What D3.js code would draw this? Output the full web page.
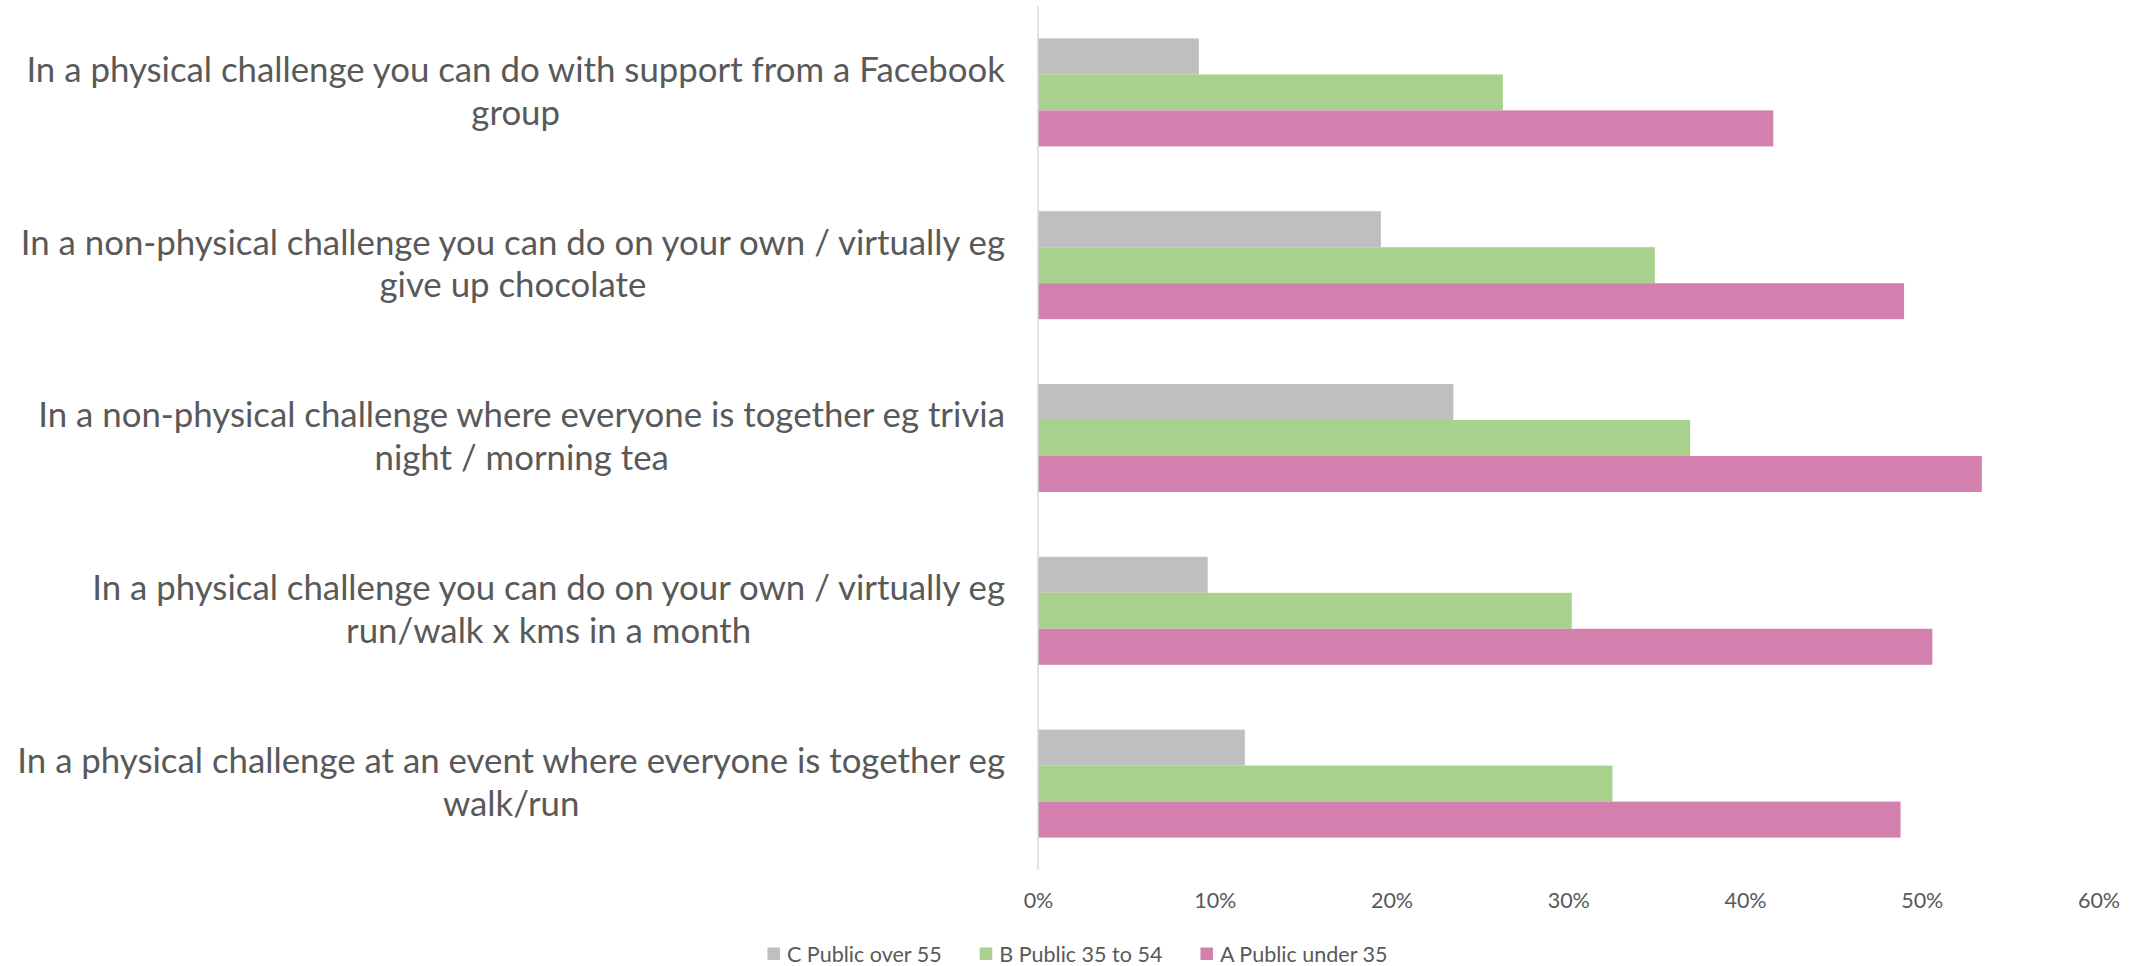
<!DOCTYPE html>
<html>
<head>
<meta charset="utf-8">
<script src="https://cdn.jsdelivr.net/npm/d3@7"></script>
<style>
  html, body { margin: 0; padding: 0; background: #ffffff; }
  svg { display: block; }
  text { font-family: Lato, "Open Sans", sans-serif; fill: #595959; }
</style>
</head>
<body>
<svg id="chart" width="2142" height="966"></svg>
<script>
// Survey categories, top to bottom (each entry holds its wrapped lines)
const categories = [
  ["In a physical challenge you can do with support from a Facebook", "group"],
  ["In a non-physical challenge you can do on your own / virtually eg", "give up chocolate"],
  ["In a non-physical challenge where everyone is together eg trivia", "night / morning tea"],
  ["In a physical challenge you can do on your own / virtually eg", "run/walk x kms in a month"],
  ["In a physical challenge at an event where everyone is together eg", "walk/run"]
];

// Series names, in legend order
const seriesNames = ["C Public over 55", "B Public 35 to 54", "A Public under 35"];

// Percent values per series, aligned with categories
const publicOver55 = [9.1, 19.4, 23.5, 9.6, 11.7];
const public35to54 = [26.3, 34.9, 36.9, 30.2, 32.5];
const publicUnder35 = [41.6, 49.0, 53.4, 50.6, 48.8];

// Axis tick values (percent)
const tickValues = [0, 10, 20, 30, 40, 50, 60];

const seriesValues = [publicOver55, public35to54, publicUnder35];
const seriesColors = ["#bfbfbf", "#a9d18e", "#d380ae"];

const svg = d3.select("#chart");

const plot = { left: 1038, right: 2098.5, top: 6, bottom: 870 };

const x = d3.scaleLinear().domain([0, 60]).range([plot.left, plot.right]);

const y = d3.scaleBand()
  .domain(d3.range(categories.length))
  .range([plot.top, plot.bottom])
  .paddingInner(0.375)
  .paddingOuter(0.1875);

const ySub = d3.scaleBand()
  .domain(d3.range(seriesNames.length))
  .range([0, y.bandwidth()]);

// Helper: width of a string at a given font size
const probe = svg.append("text").attr("x", -9999).attr("y", -9999);
function textWidth(str, size) {
  probe.attr("font-size", size).text(str);
  return probe.node().getComputedTextLength();
}

// Font sizes fitted to the label widths of the layout
const catSize = 37 * 988 / textWidth(categories[4][0], 37);
const legendTargets = [154, 161, 171];
const legendActual = seriesNames.map(s => textWidth(s, 23));
const smallSize = 23 * d3.sum(legendTargets) / d3.sum(legendActual);
probe.remove();

// Bars
const groups = svg.append("g").selectAll("g")
  .data(categories)
  .join("g")
  .attr("transform", (d, i) => `translate(0,${y(i)})`);

groups.selectAll("rect")
  .data((d, i) => seriesValues.map((vals, s) => ({ s, v: vals[i] })))
  .join("rect")
  .attr("x", x(0))
  .attr("y", d => ySub(d.s))
  .attr("width", d => x(d.v) - x(0))
  .attr("height", ySub.bandwidth())
  .attr("fill", d => seriesColors[d.s]);

// Vertical category axis line
svg.append("line")
  .attr("x1", x(0)).attr("x2", x(0))
  .attr("y1", plot.top).attr("y2", plot.bottom)
  .attr("stroke", "#d9d9e3")
  .attr("stroke-width", 1.5);

// Category labels: each block is right-aligned to the axis, lines centred within it
const labelRight = 1005;
const lineGap = catSize * 1.23;
const labelG = svg.append("g").attr("font-size", catSize);
categories.forEach((lines, i) => {
  const widths = lines.map(l => textWidth2(l));
  const blockW = d3.max(widths);
  const cx = labelRight - blockW / 2;
  const cy = y(i) + y.bandwidth() / 2;
  const firstBase = cy - 10.7 - (lines.length - 2) * lineGap / 2;
  lines.forEach((l, k) => {
    labelG.append("text")
      .attr("x", cx)
      .attr("y", firstBase + k * lineGap)
      .attr("text-anchor", "middle")
      .text(l);
  });
});
function textWidth2(str) {
  const t = svg.append("text").attr("font-size", catSize).text(str);
  const w = t.node().getComputedTextLength();
  t.remove();
  return w;
}

// Value axis tick labels
const xAxis = d3.axisBottom(x)
  .tickValues(tickValues)
  .tickFormat(d => d + "%")
  .tickSize(0)
  .tickPadding(0);

const axisG = svg.append("g")
  .attr("transform", `translate(0,${plot.bottom})`)
  .call(xAxis);
axisG.select(".domain").remove();
axisG.selectAll("text")
  .attr("dy", null)
  .attr("y", 38)
  .attr("font-size", smallSize)
  .attr("font-family", null)
  .attr("fill", "#595959");
axisG.attr("font-family", null).attr("font-size", null);

// Legend, centred under the chart
const sq = 12.5, sqGap = 7, entryGap = 38;
const legendWidths = seriesNames.map(s => {
  const t = svg.append("text").attr("font-size", smallSize).text(s);
  const w = t.node().getComputedTextLength();
  t.remove();
  return w;
});
const totalW = d3.sum(legendWidths) + seriesNames.length * (sq + sqGap) + (seriesNames.length - 1) * entryGap;
let lx = 1077.5 - totalW / 2;
const legendBase = 961.5;
const legend = svg.append("g");
seriesNames.forEach((name, i) => {
  legend.append("rect")
    .attr("x", lx).attr("y", legendBase - 14)
    .attr("width", sq).attr("height", sq)
    .attr("fill", seriesColors[i]);
  legend.append("text")
    .attr("x", lx + sq + sqGap)
    .attr("y", legendBase)
    .attr("font-size", smallSize)
    .text(name);
  lx += sq + sqGap + legendWidths[i] + entryGap;
});
</script>
</body>
</html>
